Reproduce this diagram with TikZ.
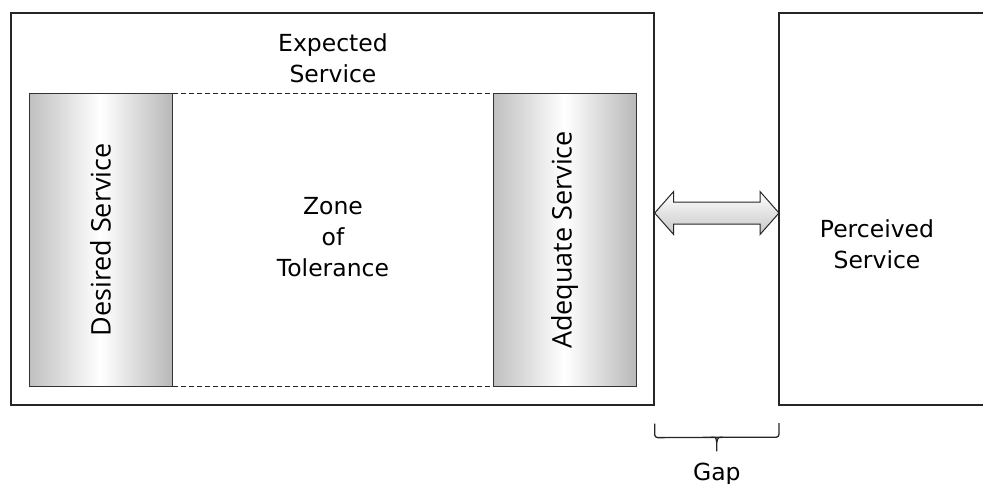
\documentclass[tikz,border=0pt]{standalone}
\usepackage{fontspec}
\setmainfont{DejaVu Sans}
\newfontfamily\barfont{Open Sans}
\usetikzlibrary{calc}
\begin{document}
\begin{tikzpicture}[x=1pt,y=-1pt,
  frame/.style={draw=black!85,line width=1.3pt,rectangle,inner sep=0pt},
  bar/.style={draw=black!80,line width=1pt,rectangle,inner sep=0pt,
    minimum width=143pt,minimum height=292pt,
    left color=black!25,right color=black!28,middle color=white},
  label/.style={align=center,font=\fontsize{23.5}{31}\selectfont,text=black},
  barlabel/.style={rotate=90,font=\barfont\fontsize{27}{32}\selectfont,text=black},
  zone/.style={draw=black!85,line width=0.9pt,dash pattern=on 5pt off 3pt},
  gaparrow/.style={draw=black!85,line width=1pt,top color=white,bottom color=black!22},
  gapbrace/.style={draw=black!85,line width=1.3pt,rounded corners=3pt}]
\useasboundingbox (0,0) rectangle (983,484);
\clip (0,0) rectangle (983,484);

% expected service frame
\node[frame,minimum width=643pt,minimum height=392pt] (outer) at (332.5,209) {};
% perceived service frame, running on past the right edge
\coordinate (perc) at (779,209);
\coordinate (perc top) at (779,13);
\coordinate (perc bottom) at (779,405);
\draw[draw=black!85,line width=1.3pt] (1000,13) -- (perc top) -- (perc bottom) -- (1000,405);

% desired and adequate service bars
\node[bar] (desired) at (100.5,240) {};
\node[bar] (adequate) at (564.5,240) {};
\node[barlabel] at (desired.center) {Desired Service};
\node[barlabel] at (adequate.center) {Adequate Service};

% zone of tolerance boundaries
\draw[zone] (desired.north east) -- (adequate.north west);
\draw[zone] (desired.south east) -- (adequate.south west);

% labels
\node[label] (exp) at (333,58) {Expected\\Service};
\node[label] (zone) at (333,237) {Zone\\of\\Tolerance};
\node[label] (perlab) at (877,244) {Perceived\\Service};

% gap arrow between expected and perceived service
\coordinate (al) at ($(outer.east)+(0,4)$);
\coordinate (ar) at ($(perc)+(0,4)$);
\path[gaparrow] (al) -- ++(19,-21.5) -- ++(0,10.5) -- ($(ar)+(-19,-11)$)
  -- ++(0,-10.5) -- (ar) -- ++(-19,21.5) -- ++(0,-10.5)
  -- ($(al)+(19,11)$) -- ++(0,10.5) -- cycle;

% gap brace
\coordinate (bl) at ($(outer.south east)+(0,18)$);
\coordinate (br) at ($(perc bottom)+(0,18)$);
\coordinate (bm) at ($(bl)!0.5!(br)+(0,14)$);
\draw[gapbrace] (bl) -- ++(0,14) -- (bm) -- (br |- bm) -- (br);
\draw[gapbrace] ($(bm)+(-6,0)$) .. controls ($(bm)+(-1,0)$) .. ($(bm)+(0,5)$) -- ++(0,9);
\draw[gapbrace] ($(bm)+(6,0)$) .. controls ($(bm)+(1,0)$) .. ($(bm)+(0,5)$);
\node[label,anchor=north] (gap) at ($(bm)+(0,22)$) {Gap};
\end{tikzpicture}
\end{document}
